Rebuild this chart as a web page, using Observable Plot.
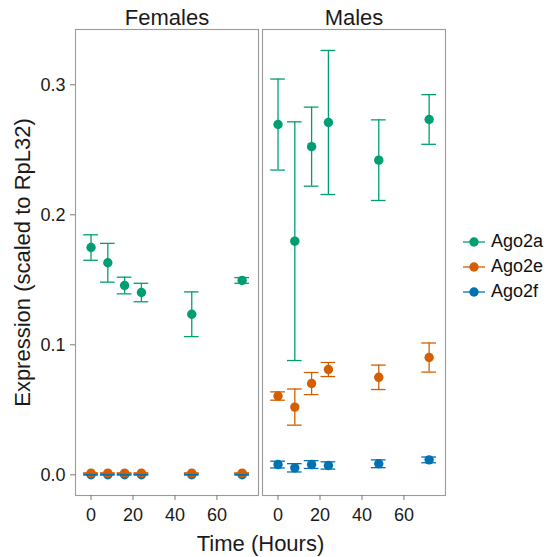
<!DOCTYPE html>
<html>
<head>
<meta charset="utf-8">
<script src="https://cdn.jsdelivr.net/npm/d3@7"></script>
<script src="https://cdn.jsdelivr.net/npm/@observablehq/plot@0.6"></script>
<style>
  html, body { margin: 0; padding: 0; background: #fff; }
  #wrap { position: relative; width: 546px; height: 557px; font-family: "Liberation Sans", Arial, Helvetica, sans-serif; }
  #legend { position: absolute; left: 462px; top: 229px; }
  .lg { display: flex; align-items: center; height: 25px; font-size: 18px; color: #111; }
  .lg svg { margin-right: 5px; }
  g[aria-label="y-axis label"] text, g[aria-label="fx-axis label"] { font-size: 22px; }
</style>
</head>
<body>
<div id="wrap"><div id="legend"></div></div>
<script>
const times = [0, 8, 16, 24, 48, 72];
const sexes = ["Females", "Males"];
const genes = ["Ago2a", "Ago2e", "Ago2f"];
const colors = ["#009E73", "#D55E00", "#0072B2"];
const yTicks = [0, 0.1, 0.2, 0.3];
const xTicks = [0, 20, 40, 60];

// means and standard errors
const femalesAgo2aMean = [0.1748, 0.1631, 0.1456, 0.1402, 0.1235, 0.1495];
const femalesAgo2aSe   = [0.0098, 0.0149, 0.0064, 0.0071, 0.0172, 0.0022];
const femalesAgo2eMean = [0.0013, 0.0013, 0.0013, 0.0013, 0.0013, 0.0013];
const femalesAgo2eSe   = [0.0002, 0.0002, 0.0002, 0.0002, 0.0002, 0.0002];
const femalesAgo2fMean = [0.0001, 0.0001, 0.0001, 0.0001, 0.0001, 0.0001];
const femalesAgo2fSe   = [0.0003, 0.0003, 0.0003, 0.0003, 0.0003, 0.0003];
const malesAgo2aMean   = [0.2694, 0.1797, 0.2524, 0.2710, 0.2420, 0.2733];
const malesAgo2aSe     = [0.0350, 0.0918, 0.0304, 0.0554, 0.0310, 0.0191];
const malesAgo2eMean   = [0.0606, 0.0521, 0.0702, 0.0810, 0.0750, 0.0902];
const malesAgo2eSe     = [0.0032, 0.0139, 0.0085, 0.0054, 0.0094, 0.0112];
const malesAgo2fMean   = [0.0079, 0.0054, 0.0079, 0.0072, 0.0085, 0.0115];
const malesAgo2fSe     = [0.0026, 0.0032, 0.0030, 0.0028, 0.0030, 0.0022];

const table = {
  Females: { Ago2a: [femalesAgo2aMean, femalesAgo2aSe], Ago2e: [femalesAgo2eMean, femalesAgo2eSe], Ago2f: [femalesAgo2fMean, femalesAgo2fSe] },
  Males:   { Ago2a: [malesAgo2aMean, malesAgo2aSe],     Ago2e: [malesAgo2eMean, malesAgo2eSe],     Ago2f: [malesAgo2fMean, malesAgo2fSe] }
};
const data = [];
sexes.forEach(sex => genes.forEach((gene, gi) => times.forEach((t, i) => {
  const [m, s] = table[sex][gene];
  data.push({ sex, gene, gi, t, mean: m[i], se: s[i] });
})));
const dotOrder = data.slice().sort((a, b) => b.gi - a.gi);
const capHalf = 3.5;

const chart = Plot.plot({
  width: 450,
  height: 557,
  marginLeft: 75,
  marginRight: 5,
  marginTop: 29,
  marginBottom: 62,
  style: { fontFamily: "Liberation Sans, Arial, Helvetica, sans-serif", fontSize: "18px", color: "#1a1a1a", background: "white", overflow: "visible" },
  fx: { domain: sexes, paddingInner: 0.0214, paddingOuter: 0, label: null },
  x: { domain: [-7.4, 79.8] },
  y: { domain: [-0.0159, 0.3425] },
  color: { domain: genes, range: colors },
  marks: [
    Plot.frame({ stroke: "#9a9a9a", strokeWidth: 1.1 }),
    Plot.axisFx({ anchor: "top", tickSize: 0, tickPadding: 5, fontSize: 22, label: null }),
    Plot.axisFx({ anchor: "bottom", ticks: [], tickSize: 0, label: "Time (Hours)", labelAnchor: "center", labelArrow: "none", labelOffset: 55, fontSize: 22 }),
    Plot.axisX({ anchor: "bottom", ticks: xTicks, tickSize: 5, tickPadding: 8, label: null, stroke: "#777" }),
    Plot.axisY({ anchor: "left", ticks: yTicks, tickFormat: d3.format(".1f"), tickSize: 5, tickPadding: 5, stroke: "#777",
                 label: "Expression (scaled to RpL32)", labelAnchor: "center", labelArrow: "none", labelOffset: 61 }),
    Plot.dot(dotOrder, { fx: "sex", x: "t", y: "mean", fill: "gene", r: 4.7 }),
    Plot.ruleX(data, { fx: "sex", x: "t", y1: d => d.mean - d.se, y2: d => d.mean + d.se, stroke: "gene", strokeWidth: 1.3 }),
    Plot.ruleY(data, { fx: "sex", y: d => d.mean + d.se, x1: d => d.t - capHalf, x2: d => d.t + capHalf, stroke: "gene", strokeWidth: 1.3 }),
    Plot.ruleY(data, { fx: "sex", y: d => d.mean - d.se, x1: d => d.t - capHalf, x2: d => d.t + capHalf, stroke: "gene", strokeWidth: 1.3 })
  ]
});
const wrap = document.getElementById("wrap");
wrap.insertBefore(chart, wrap.firstChild);

const legend = document.getElementById("legend");
genes.forEach((g, i) => {
  const row = document.createElement("div");
  row.className = "lg";
  row.innerHTML = `<svg width="24" height="14"><line x1="1" x2="23" y1="7" y2="7" stroke="${colors[i]}" stroke-width="1.3"/><circle cx="12" cy="7" r="4.7" fill="${colors[i]}"/></svg><span>${g}</span>`;
  legend.appendChild(row);
});
</script>
</body>
</html>
